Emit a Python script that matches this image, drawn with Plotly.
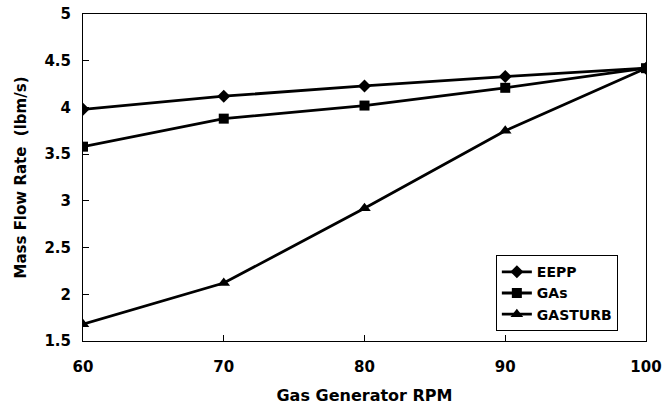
import plotly.graph_objects as go

rpm = [60, 70, 80, 90, 100]
eepp = [3.98, 4.12, 4.23, 4.33, 4.42]
gas = [3.58, 3.88, 4.02, 4.21, 4.42]
gasturb = [1.68, 2.12, 2.92, 3.75, 4.42]

x_ticks = [60, 70, 80, 90, 100]
y_ticks = [1.5, 2, 2.5, 3, 3.5, 4, 4.5, 5]
y_labels = ["1.5", "2", "2.5", "3", "3.5", "4", "4.5", "5"]

FAM = "DejaVu Sans"
font = dict(family=FAM, size=15, color="black", weight="bold")

fig = go.Figure()
series = [("EEPP", eepp, "diamond", 10), ("GAs", gas, "square", 10), ("GASTURB", gasturb, "triangle-up", 11)]
for name, vals, sym, sz in series:
    fig.add_trace(go.Scatter(x=rpm, y=vals, name=name, mode="lines+markers",
                             line=dict(color="black", width=2.8),
                             marker=dict(symbol=sym, size=sz, color="black")))

fig.update_layout(
    width=665, height=410,
    margin=dict(l=83, r=19, t=14, b=69),
    paper_bgcolor="white", plot_bgcolor="white",
    font=font,
    showlegend=True,
    legend=dict(x=0.95, y=0.03, xanchor="right", yanchor="bottom",
                bordercolor="black", borderwidth=1, bgcolor="white",
                font=dict(family=FAM, size=14, color="black", weight="bold"),
                tracegroupgap=0, itemwidth=30),
    xaxis=dict(range=[60, 100], tickvals=x_ticks, ticks="inside", ticklen=6,
               tickcolor="black", showline=True, linecolor="black", linewidth=1,
               mirror=True, showgrid=False, zeroline=False, ticklabelstandoff=12,
               automargin=False,
               title=dict(text="Gas Generator RPM", standoff=14,
                          font=dict(family=FAM, size=16, weight="bold")),
               tickfont=dict(family=FAM, size=15, weight="bold")),
    yaxis=dict(range=[1.5, 5], tickvals=y_ticks, ticktext=y_labels, ticks="inside",
               ticklen=6, tickcolor="black", showline=True, linecolor="black",
               linewidth=1, mirror=True, showgrid=False, zeroline=False, ticklabelstandoff=8,
               automargin=False,
               title=dict(text="Mass Flow Rate  (lbm/s)", standoff=14,
                          font=dict(family=FAM, size=15, weight="bold")),
               tickfont=dict(family=FAM, size=15, weight="bold")),
)

fig.write_html("out.html")
